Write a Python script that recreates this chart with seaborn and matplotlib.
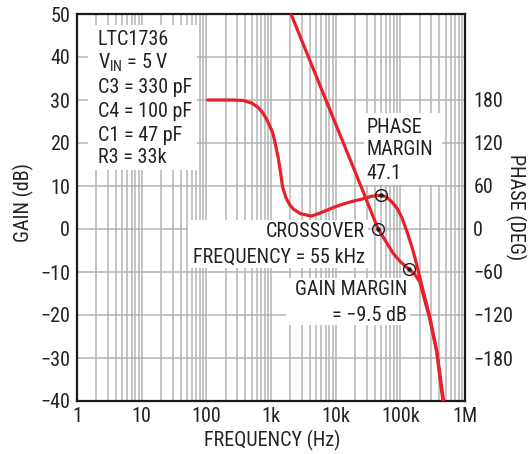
import numpy as np
import pandas as pd
import matplotlib
matplotlib.use("Agg")
import matplotlib.pyplot as plt
from matplotlib import font_manager as fm
from matplotlib.patches import Rectangle
import seaborn as sns

# =========================
# DATA
# =========================
gain_freq = [2040, 10000, 20000, 45400, 56000, 66000, 79000, 100000, 137000,
             167000, 200000, 286000, 366000, 455000]
gain_db = [50, 24.4, 13.3, 0, -2.2, -4.0, -5.8, -7.6, -9.4,
           -10.5, -12.3, -21.0, -28.6, -40.0]

phase_freq = [105, 250, 370, 500, 630, 750, 890, 1070, 1175, 1290, 1410,
              1510, 1700, 1950, 2240, 2820, 4170, 5750, 7940, 11750, 17800,
              26300, 35500, 49000, 60300, 74100, 89100, 104700, 125900,
              151400, 173800, 199500, 239900, 285800, 363100, 457100, 501200]
phase_deg = [180, 180, 179.4, 175.8, 169.8, 162, 150, 133.8, 117, 100.2, 78,
             58.8, 43.8, 33.6, 27.6, 21.6, 18, 22.2, 27.6, 33.6, 38.4,
             42, 45.6, 47.1, 45, 37.8, 28.8, 16.8, -3,
             -25.2, -45, -67.2, -96, -123, -168.6, -234, -252]

crossover = (45400, 0)
gain_margin = (137000, -9.4)
phase_margin = (49400, 47.1)

x_ticks = [1, 10, 100, 1e3, 1e4, 1e5, 1e6]
x_labels = ["1", "10", "100", "1k", "10k", "100k", "1M"]
gain_ticks = list(range(-40, 51, 10))
phase_ticks = [-180, -120, -60, 0, 60, 120, 180]

info_lines = ["LTC1736", r"V$_{\mathregular{IN}}$ = 5 V", "C3 = 330 pF",
              "C4 = 100 pF", "C1 = 47 pF", "R3 = 33k"]

# =========================
# Setup
# =========================
sns.set_theme(style="white")
names = {f.name for f in fm.fontManager.ttflist}
FONT = "DejaVu Sans"
for cand in ["Liberation Sans Narrow", "DejaVu Sans Condensed", "Roboto Condensed", "Liberation Sans"]:
    if cand in names:
        FONT = cand
        break
plt.rcParams["font.family"] = [FONT, "DejaVu Sans"]
plt.rcParams["mathtext.fontset"] = "custom"
plt.rcParams["mathtext.rm"] = FONT
plt.rcParams["mathtext.it"] = FONT
plt.rcParams["mathtext.bf"] = FONT

FS = 14.5
RED = "#e8202a"
GRID = "#b4b4b4"
INK = "#222222"

fig = plt.figure(figsize=(5.28, 4.54), dpi=100)
ax = fig.add_axes([77 / 528, 53 / 454, 388 / 528, 387 / 454])

ax.set_xscale("log")
ax.set_xlim(1, 1e6)
ax.set_ylim(-40, 50)
ax.set_xticks(x_ticks)
ax.set_xticklabels(x_labels)
ax.set_yticks(gain_ticks)
ax.tick_params(length=0, labelsize=FS, colors=INK)
ax.tick_params(axis="y", pad=5)
ax.tick_params(axis="x", pad=4)
ax.set_axisbelow(True)
ax.grid(True, which="both", axis="x", color=GRID, lw=1.1)
ax.grid(True, which="major", axis="y", color=GRID, lw=1.1)
ax.xaxis.set_minor_formatter(plt.NullFormatter())
for s in ax.spines.values():
    s.set_color("#1a1a1a")
    s.set_linewidth(1.6)

# white label boxes (axes fraction)
boxes = [(0.028, 0.597, 0.281, 0.375),
         (0.740, 0.558, 0.201, 0.186),
         (0.286, 0.344, 0.464, 0.124),
         (0.539, 0.196, 0.319, 0.122)]
for x0, y0, w, h in boxes:
    ax.add_patch(Rectangle((x0, y0), w, h, transform=ax.transAxes,
                           facecolor="white", edgecolor="none", zorder=1))

gain_df = pd.DataFrame({"freq": gain_freq, "gain": gain_db})
sns.lineplot(data=gain_df, x="freq", y="gain", ax=ax, color=RED, lw=2.3,
             sort=False, estimator=None, zorder=4)

ax2 = ax.twinx()
ax2.set_ylim(-240, 300)
ax2.set_yticks(phase_ticks)
ax2.tick_params(length=0, labelsize=FS, colors=INK, pad=6)
ax2.grid(False)
for s in ax2.spines.values():
    s.set_visible(False)
phase_df = pd.DataFrame({"freq": phase_freq, "phase": phase_deg})
sns.lineplot(data=phase_df, x="freq", y="phase", ax=ax2, color=RED, lw=2.3,
             sort=False, estimator=None, zorder=4)
ax2.set_xlim(1, 1e6)
ax2.set_ylabel("")
ax.set_xlabel("")
ax.set_ylabel("")

# marker circles
for a, (fx, fy) in [(ax, crossover), (ax, gain_margin), (ax2, phase_margin)]:
    a.plot([fx], [fy], "o", ms=8.5, mfc="none", mec="#1a1a1a", mew=1.0, zorder=6)
    a.plot([fx], [fy], "o", ms=2.2, color="#1a1a1a", zorder=6)

# annotations
ys = [0.933, 0.873, 0.811, 0.747, 0.687, 0.628]
for t, y in zip(info_lines, ys):
    ax.text(0.054, y, t, transform=ax.transAxes, fontsize=FS, va="center",
            ha="left", color=INK, zorder=3)
for t, y in zip(["PHASE", "MARGIN", "47.1"], [0.708, 0.649, 0.589]):
    ax.text(0.747, y, t, transform=ax.transAxes, fontsize=FS, va="center",
            ha="left", color=INK, zorder=3)
ax.text(0.742, 0.437, "CROSSOVER", transform=ax.transAxes, fontsize=FS,
        va="center", ha="right", color=INK, zorder=3)
ax.text(0.742, 0.372, "FREQUENCY = 55 kHz", transform=ax.transAxes, fontsize=FS,
        va="center", ha="right", color=INK, zorder=3)
ax.text(0.851, 0.287, "GAIN MARGIN", transform=ax.transAxes, fontsize=FS,
        va="center", ha="right", color=INK, zorder=3)
ax.text(0.851, 0.222, "= \u22129.5 dB", transform=ax.transAxes, fontsize=FS,
        va="center", ha="right", color=INK, zorder=3)

# axis titles
fig.text(23 / 528, 1 - 202 / 454, "GAIN (dB)", rotation=90, fontsize=FS,
         ha="center", va="center", color=INK)
fig.text(272 / 528, 1 - 440 / 454, "FREQUENCY (Hz)", fontsize=FS,
         ha="center", va="center", color=INK)
fig.text(516 / 528, 1 - 207 / 454, "PHASE (DEG)", rotation=270, fontsize=FS,
         ha="center", va="center", color=INK)

fig.savefig("out.png", dpi=100)
